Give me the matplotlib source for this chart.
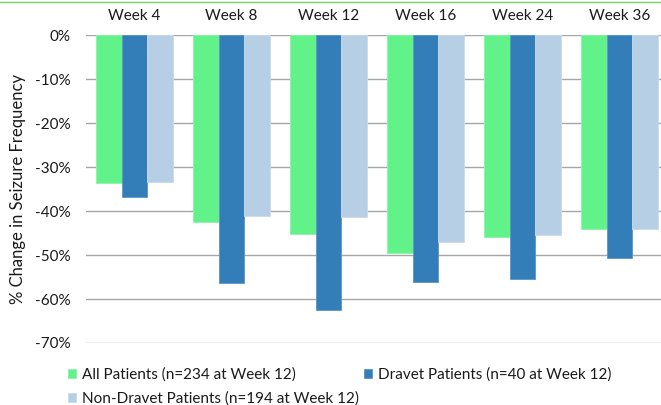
import matplotlib
matplotlib.use("Agg")
import matplotlib.pyplot as plt
from matplotlib.lines import Line2D
import numpy as np

plt.rcParams['font.family'] = ['Lato', 'DejaVu Sans']

# data
weeks = ["Week 4", "Week 8", "Week 12", "Week 16", "Week 24", "Week 36"]
all_patients = [-33.5, -42.5, -45.1, -49.5, -45.9, -44.1]
dravet = [-36.8, -56.3, -62.6, -56.2, -55.4, -50.6]
non_dravet = [-33.3, -41.2, -41.3, -47.0, -45.5, -44.1]

labels = ["All Patients (n=234 at Week 12)",
          "Dravet Patients (n=40 at Week 12)",
          "Non-Dravet Patients (n=194 at Week 12)"]
colors = ["#62F28A", "#337EB9", "#B7CFE5"]
edges = ["#8AF5A5", "#5A97C8", "#C9DBEC"]

W, H = 661, 405
fig = plt.figure(figsize=(W / 100, H / 100), dpi=100)
ax = fig.add_axes([86 / W, 1 - 343 / H, (668 - 86) / W, (343 - 35.5) / H])

x = np.arange(len(weeks))
bw = 0.265
bars = []
for k, vals in enumerate([all_patients, dravet, non_dravet]):
    b = ax.bar(x + (k - 1) * bw, vals, bw, color=colors[k], edgecolor=edges[k],
               linewidth=0.6, zorder=3)
    bars.append(b)

ax.set_xlim(-0.5, len(weeks) - 0.5)
ax.set_ylim(-70, 0)
ax.set_yticks(np.arange(-70, 1, 10))
ax.set_yticklabels([f"{v}%" for v in range(-70, 1, 10)])
ax.xaxis.tick_top()
ax.set_xticks(x)
ax.set_xticklabels(weeks)
ax.tick_params(axis='both', length=0, labelsize=11, colors='#1a1a1a')
ax.tick_params(axis='x', pad=9)
ax.tick_params(axis='y', pad=11)
ax.yaxis.grid(True, color='#a6a6a6', linewidth=1.0, zorder=0)
for s in ax.spines.values():
    s.set_visible(False)

fig.text(18 / W, 1 - 189 / H, "% Change in Seizure Frequency", rotation=90,
         ha='center', va='center', fontsize=12, color='#1a1a1a')

# thin green line along the top of the slide
fig.add_artist(Line2D([0, 1], [1 - 2 / H, 1 - 2 / H], transform=fig.transFigure,
                      color='#7ccf6e', linewidth=1.0))

# legend: row-wise order (All, Dravet / Non-Dravet)
handles = [bars[0], bars[2], bars[1]]
hl = [labels[0], labels[2], labels[1]]
fig.legend(handles, hl, ncol=2, loc='upper left', bbox_to_anchor=(54 / W, 1 - 354 / H),
           frameon=False, fontsize=11, handlelength=0.55, handleheight=0.55,
           handletextpad=0.4, columnspacing=0.3, labelspacing=0.62,
           labelcolor='#1a1a1a')

fig.savefig("out.png", dpi=100)
